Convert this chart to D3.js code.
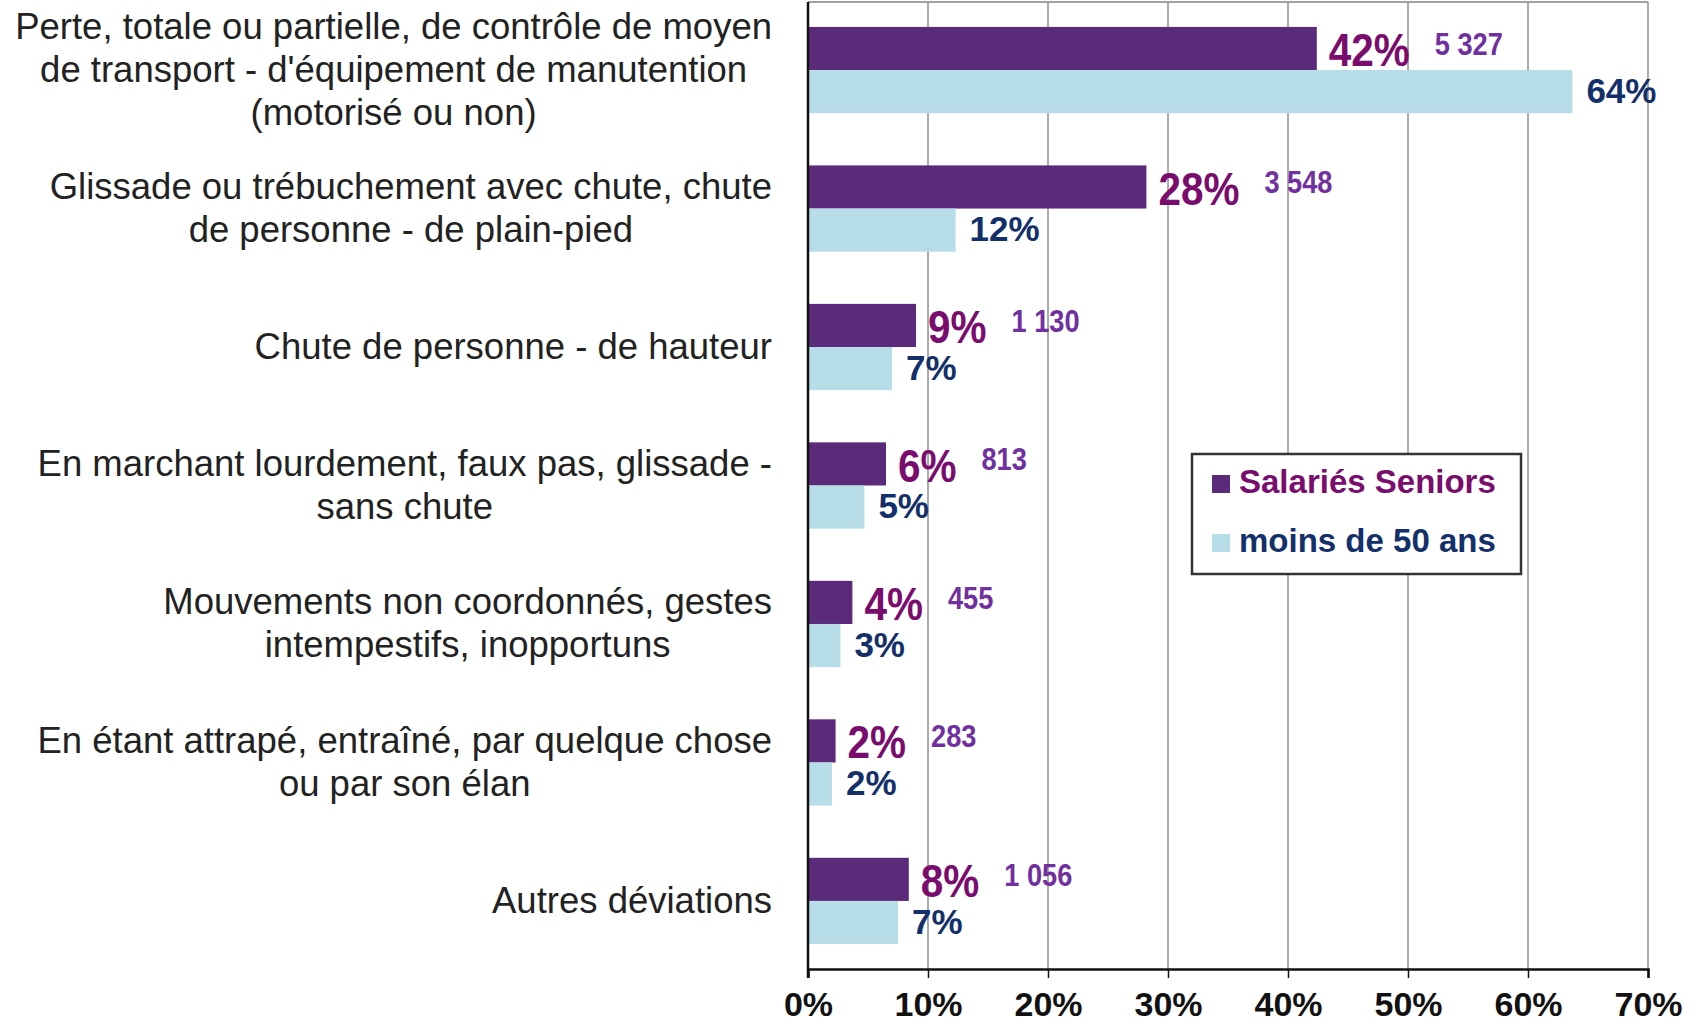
<!DOCTYPE html>
<html lang="fr">
<head>
<meta charset="UTF-8">
<title>Déviations - Salariés Seniors</title>
<script src="https://d3js.org/d3.v7.min.js"></script>
<style>
    body {
        margin: 0;
        padding: 0;
        background: #ffffff;
        overflow: hidden;
    }
    text {
        font-family: "Liberation Sans", Arial, sans-serif;
    }
</style>
</head>
<body>
<div id="chart"></div>
<script>
    // categories (one entry per group, lines split on "\n")
    const categories = [
        "Perte, totale ou partielle, de contrôle de moyen\nde transport - d'équipement de manutention\n(motorisé ou non)",
        "Glissade ou trébuchement avec chute, chute\nde personne - de plain-pied",
        "Chute de personne - de hauteur",
        "En marchant lourdement, faux pas, glissade -\nsans chute",
        "Mouvements non coordonnés, gestes\nintempestifs, inopportuns",
        "En étant attrapé, entraîné, par quelque chose\nou par son élan",
        "Autres déviations"
    ];
    const seriesNames = ["Salariés Seniors", "moins de 50 ans"];
    const seniors = [0.424, 0.282, 0.090, 0.065, 0.037, 0.023, 0.084];
    const moins50 = [0.637, 0.123, 0.070, 0.047, 0.027, 0.020, 0.075];
    const seniorLabels = ["42%", "28%", "9%", "6%", "4%", "2%", "8%"];
    const moinsLabels = ["64%", "12%", "7%", "5%", "3%", "2%", "7%"];
    const seniorCounts = [5327, 3548, 1130, 813, 455, 283, 1056];
    const xTicks = [0, 0.1, 0.2, 0.3, 0.4, 0.5, 0.6, 0.7];

    const W = 1698, H = 1023;
    const plot = { left: 808, right: 1648, top: 2, bottom: 969 };
    const colors = { seniors: "#5b2a7b", moins: "#b7dde8" };
    const textColors = { seniors: "#7a0c6e", moins: "#13306a", counts: "#7030a0" };

    const svg = d3.select("#chart").append("svg")
        .attr("width", W)
        .attr("height", H);

    const x = d3.scaleLinear().domain([0, 0.7]).range([plot.left, plot.right]);
    const y = d3.scaleBand()
        .domain(categories)
        .range([plot.top, plot.bottom])
        .paddingInner(0.377)
        .paddingOuter(0.18);
    const sub = d3.scaleBand()
        .domain(seriesNames)
        .range([0, y.bandwidth()]);

    // gridlines + top border
    svg.append("g")
        .selectAll("line")
        .data(xTicks.slice(1))
        .join("line")
        .attr("x1", d => x(d)).attr("x2", d => x(d))
        .attr("y1", plot.top).attr("y2", plot.bottom)
        .attr("stroke", "#8f8f8f")
        .attr("stroke-width", 1.5);
    svg.append("line")
        .attr("x1", plot.left).attr("x2", plot.right)
        .attr("y1", plot.top).attr("y2", plot.top)
        .attr("stroke", "#a0a0a0")
        .attr("stroke-width", 2);

    // bars
    const rows = categories.map((c, i) => ({ cat: c, i: i }));
    const groups = svg.append("g").selectAll("g")
        .data(rows)
        .join("g")
        .attr("transform", d => `translate(0,${y(d.cat)})`);

    groups.append("rect")
        .attr("x", x(0))
        .attr("y", sub(seriesNames[0]))
        .attr("width", d => x(seniors[d.i]) - x(0))
        .attr("height", sub.bandwidth())
        .attr("fill", colors.seniors);
    groups.append("rect")
        .attr("x", x(0))
        .attr("y", sub(seriesNames[1]))
        .attr("width", d => x(moins50[d.i]) - x(0))
        .attr("height", sub.bandwidth())
        .attr("fill", colors.moins);

    // axes
    const xAxis = svg.append("g")
        .attr("transform", `translate(0,${plot.bottom})`)
        .call(d3.axisBottom(x).tickValues(xTicks).tickFormat(d3.format(".0%")).tickSize(9).tickPadding(14));
    xAxis.select(".domain").attr("stroke", "#111").attr("stroke-width", 2.5);
    xAxis.selectAll(".tick line").attr("stroke", "#111").attr("stroke-width", 1.5);
    xAxis.selectAll(".tick text")
        .attr("font-family", "Liberation Sans, Arial, sans-serif")
        .attr("font-size", 34)
        .attr("font-weight", "bold")
        .attr("fill", "#111");

    svg.append("line")
        .attr("x1", plot.left).attr("x2", plot.left)
        .attr("y1", plot.top).attr("y2", plot.bottom + 9)
        .attr("stroke", "#111")
        .attr("stroke-width", 2.5);

    // category labels: centred block, right aligned
    const labelRight = 772;
    const lineH = 43;
    const catLabels = svg.append("g").selectAll("text")
        .data(rows)
        .join("text")
        .attr("font-size", 36.5)
        .attr("fill", "#222")
        .attr("text-anchor", "middle");
    catLabels.each(function(d) {
        const lines = d.cat.split("\n");
        const t = d3.select(this);
        const cy = y(d.cat) + y.bandwidth() / 2;
        const y0 = cy - (lines.length - 1) * lineH / 2 + 12;
        lines.forEach((ln, k) => {
            t.append("tspan").attr("y", y0 + k * lineH).text(ln);
        });
        let maxW = 0;
        t.selectAll("tspan").each(function() {
            maxW = Math.max(maxW, this.getComputedTextLength());
        });
        t.selectAll("tspan").attr("x", labelRight - maxW / 2);
    });

    // value labels (seniors, condensed)
    const sx = 0.88;
    groups.each(function(d) {
        const g = d3.select(this);
        const yS = sub(seriesNames[0]);
        const yM = sub(seriesNames[1]);
        const pctX = x(seniors[d.i]) + 12;
        const pct = g.append("text")
            .attr("transform", `translate(${pctX},${yS + sub.bandwidth() - 4}) scale(${sx},1)`)
            .attr("font-size", 46)
            .attr("font-weight", "bold")
            .attr("fill", textColors.seniors)
            .text(seniorLabels[d.i]);
        const pw = pct.node().getComputedTextLength() * sx;
        g.append("text")
            .attr("transform", `translate(${pctX + pw + 25},${yS + 28}) scale(0.85,1)`)
            .attr("font-size", 32)
            .attr("font-weight", "bold")
            .attr("fill", textColors.counts)
            .text(d3.format(",")(seniorCounts[d.i]).replace(/,/g, " "));
        g.append("text")
            .attr("x", x(moins50[d.i]) + 14)
            .attr("y", yM + sub.bandwidth() / 2 + 11)
            .attr("font-size", 35)
            .attr("font-weight", "bold")
            .attr("fill", textColors.moins)
            .text(moinsLabels[d.i]);
    });

    // legend
    const lg = svg.append("g").attr("transform", "translate(1192,454)");
    lg.append("rect")
        .attr("width", 329).attr("height", 120)
        .attr("fill", "#fff")
        .attr("stroke", "#333")
        .attr("stroke-width", 2.5);
    const legendItems = [
        { name: seriesNames[0], fill: colors.seniors, color: textColors.seniors },
        { name: seriesNames[1], fill: colors.moins, color: textColors.moins }
    ];
    legendItems.forEach((it, k) => {
        lg.append("rect")
            .attr("x", 20).attr("y", 21 + k * 59)
            .attr("width", 18).attr("height", 18)
            .attr("fill", it.fill);
        lg.append("text")
            .attr("x", 47).attr("y", 39 + k * 59)
            .attr("font-size", 33)
            .attr("font-weight", "bold")
            .attr("fill", it.color)
            .text(it.name);
    });
</script>
</body>
</html>
